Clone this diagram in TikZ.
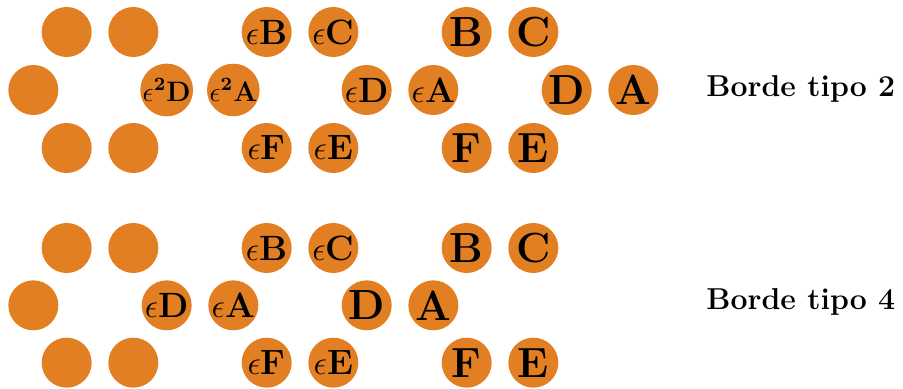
\documentclass[tikz,border=0pt]{standalone}
\usepackage{amsmath,amssymb}
\usepackage{tikz}
\usetikzlibrary{positioning}

\definecolor{hexorange}{RGB}{225,127,34}

\begin{document}
\begin{tikzpicture}[
  disc/.style={circle,fill=hexorange,draw=none,inner sep=0pt,minimum size=0.75cm},
  outer/.style={disc,font=\fontsize{18}{20}\selectfont\bfseries},
  middle/.style={disc,font=\fontsize{15}{17}\selectfont\bfseries},
  inner/.style={disc,font=\fontsize{12}{14}\selectfont\bfseries},
  lbl/.style={font=\fontsize{12.9}{15}\selectfont\bfseries,inner sep=0pt}
]
\useasboundingbox (0,0) rectangle (13.545,-5.835);
% Borde tipo 2
\node[disc] (t1) at (1,-0.48) {};
\node[disc] (t2) at (2,-0.48) {};
\node[disc] (t3) at (0.5,-1.35) {};
\node[disc] (t4) at (1,-2.22) {};
\node[disc] (t5) at (2,-2.22) {};
\node[inner] (teeD) at (2.5,-1.35) {$\epsilon^{\mathbf{2}}$D};
\node[inner] (teeA) at (3.5,-1.35) {$\epsilon^{\mathbf{2}}$A};
\node[middle] (teB) at (4,-0.48) {$\epsilon$B};
\node[middle] (teC) at (5,-0.48) {$\epsilon$C};
\node[middle] (teD) at (5.5,-1.35) {$\epsilon$D};
\node[middle] (teA) at (6.5,-1.35) {$\epsilon$A};
\node[middle] (teF) at (4,-2.22) {$\epsilon$F};
\node[middle] (teE) at (5,-2.22) {$\epsilon$E};
\node[outer] (tB) at (7,-0.48) {B};
\node[outer] (tC) at (8,-0.48) {C};
\node[outer] (tD) at (8.5,-1.35) {D};
\node[outer] (tA) at (9.5,-1.35) {A};
\node[outer] (tF) at (7,-2.22) {F};
\node[outer] (tE) at (8,-2.22) {E};
\node[lbl,anchor=base west] (ltwo) at (10.59,-1.455) {Borde tipo 2};
% Borde tipo 4
\node[disc] (b1) at (1,-3.72) {};
\node[disc] (b2) at (2,-3.72) {};
\node[disc] (b3) at (0.5,-4.58) {};
\node[disc] (b4) at (1,-5.44) {};
\node[disc] (b5) at (2,-5.44) {};
\node[middle] (beD) at (2.5,-4.58) {$\epsilon$D};
\node[middle] (beA) at (3.5,-4.58) {$\epsilon$A};
\node[middle] (beB) at (4,-3.72) {$\epsilon$B};
\node[middle] (beC) at (5,-3.72) {$\epsilon$C};
\node[middle] (beF) at (4,-5.44) {$\epsilon$F};
\node[middle] (beE) at (5,-5.44) {$\epsilon$E};
\node[outer] (bD) at (5.5,-4.58) {D};
\node[outer] (bA) at (6.5,-4.58) {A};
\node[outer] (bB) at (7,-3.72) {B};
\node[outer] (bC) at (8,-3.72) {C};
\node[outer] (bF) at (7,-5.44) {F};
\node[outer] (bE) at (8,-5.44) {E};
\node[lbl,anchor=base west] (lfour) at (10.59,-4.635) {Borde tipo 4};
\end{tikzpicture}
\end{document}
